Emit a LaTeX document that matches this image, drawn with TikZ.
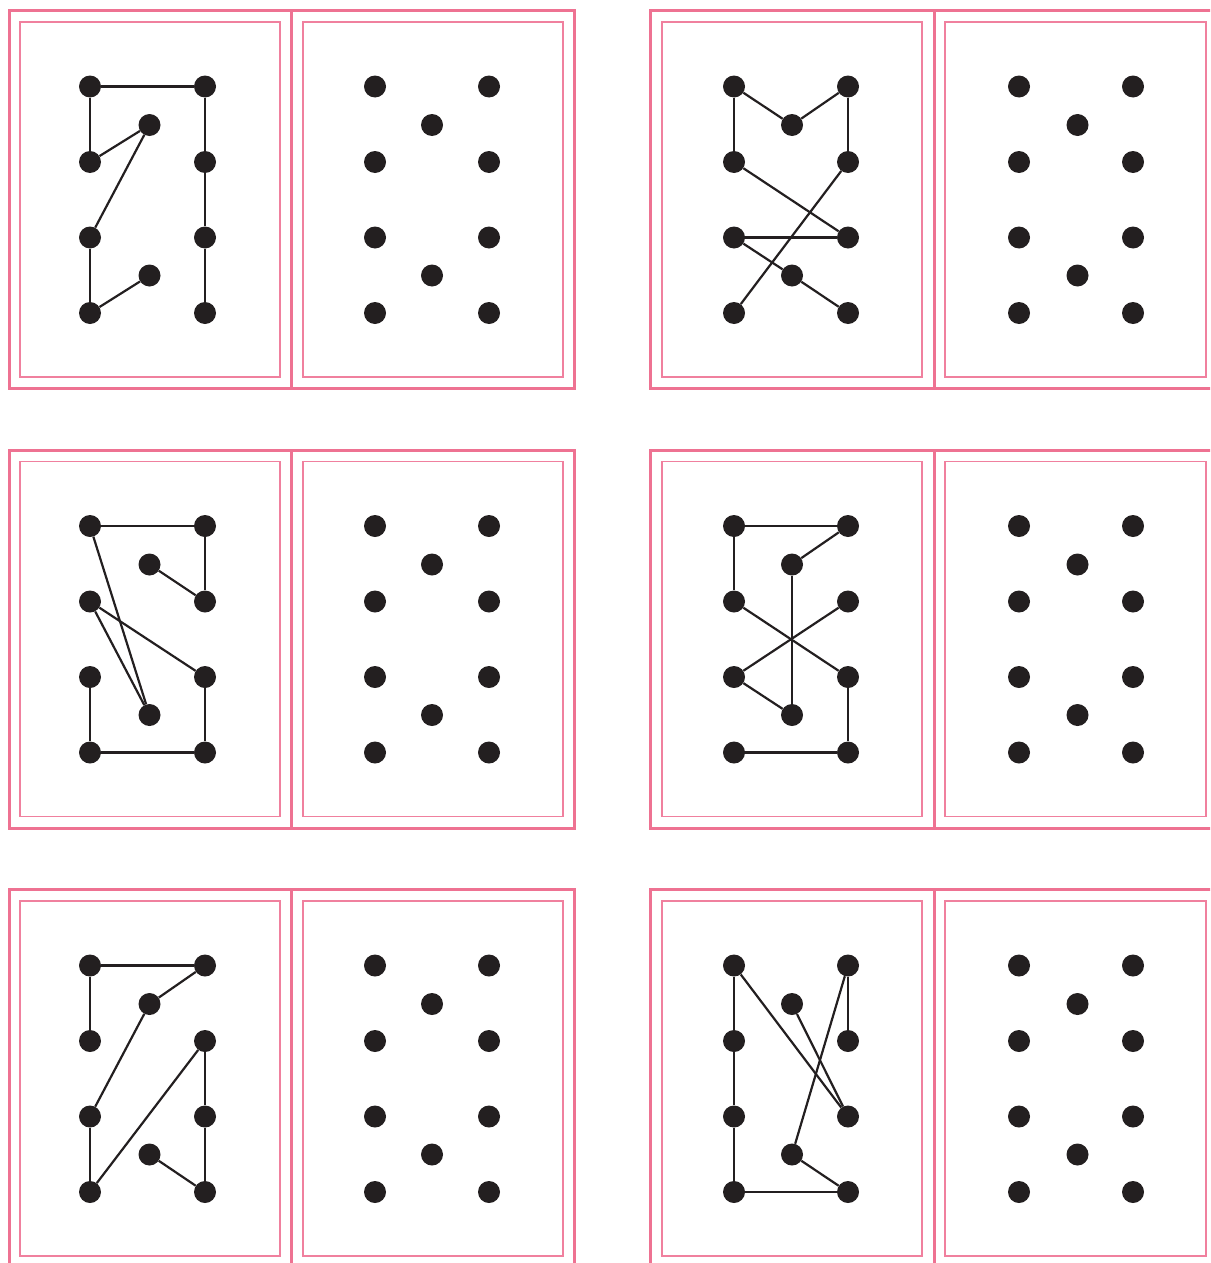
\documentclass[tikz,border=0pt]{standalone}
\definecolor{pinkline}{RGB}{238,114,146}
\definecolor{pinkthin}{RGB}{240,128,158}
\definecolor{dotcol}{RGB}{35,31,32}
\tikzset{
  outerbox/.style={draw=pinkline, line width=3pt},
  innerbox/.style={draw=pinkthin, line width=1.3pt},
  dot/.style={circle, fill=dotcol, inner sep=0pt, minimum size=22pt},
  link/.style={draw=dotcol, line width=2.2pt},
}
% prefix, xL, xM, xR, oy
\newcommand\dotgrid[5]{%
  \node[dot] (#1L1) at (#2,#5+76) {};
  \node[dot] (#1L2) at (#2,#5+151.5) {};
  \node[dot] (#1L3) at (#2,#5+227) {};
  \node[dot] (#1L4) at (#2,#5+302.5) {};
  \node[dot] (#1R1) at (#4,#5+76) {};
  \node[dot] (#1R2) at (#4,#5+151.5) {};
  \node[dot] (#1R3) at (#4,#5+227) {};
  \node[dot] (#1R4) at (#4,#5+302.5) {};
  \node[dot] (#1M1) at (#3,#5+114.5) {};
  \node[dot] (#1M2) at (#3,#5+265) {};
}
% outer left, divider, outer right, inner1 l, inner1 r, inner2 l, inner2 r, oy
\newcommand\panelframe[8]{%
  \draw[outerbox] (#1,#8) rectangle (#3,#8+378);
  \draw[outerbox] (#2,#8) -- (#2,#8+378);
  \draw[innerbox] (#4,#8+11.5) rectangle (#5,#8+366.5);
  \draw[innerbox] (#6,#8+11.5) rectangle (#7,#8+366.5);
}
\begin{document}
\begin{tikzpicture}[x=1pt,y=-1pt]
\useasboundingbox (0,0) rectangle (1210,1263);
\clip (0,0) rectangle (1210,1263);

% ---------- frames ----------
\foreach \oy in {10.5,450,889.5}{
  \panelframe{9}{291.5}{574}{20}{280}{303}{563}{\oy}
  \panelframe{650.5}{934}{1218}{662}{922}{945}{1206}{\oy}
}

% ---------- row 1 ----------
\dotgrid{a}{90}{149.5}{205}{10.5}
\dotgrid{ap}{375}{432}{489}{10.5}
\dotgrid{b}{734}{792}{848}{10.5}
\dotgrid{bp}{1019}{1077.5}{1133}{10.5}

\draw[link] (aL1) -- (aR1);
\draw[link] (aL1) -- (aL2);
\draw[link] (aL2) -- (aM1);
\draw[link] (aM1) -- (aL3);
\draw[link] (aL3) -- (aL4);
\draw[link] (aL4) -- (aM2);
\draw[link] (aR1) -- (aR2);
\draw[link] (aR2) -- (aR3);
\draw[link] (aR3) -- (aR4);

\draw[link] (bL1) -- (bM1);
\draw[link] (bM1) -- (bR1);
\draw[link] (bL1) -- (bL2);
\draw[link] (bR1) -- (bR2);
\draw[link] (bL2) -- (bR3);
\draw[link] (bR2) -- (bL4);
\draw[link] (bL3) -- (bR3);
\draw[link] (bL3) -- (bM2);
\draw[link] (bM2) -- (bR4);

% ---------- row 2 ----------
\dotgrid{c}{90}{149.5}{205}{450}
\dotgrid{cp}{375}{432}{489}{450}
\dotgrid{d}{734}{792}{848}{450}
\dotgrid{dp}{1019}{1077.5}{1133}{450}

\draw[link] (cL1) -- (cR1);
\draw[link] (cR1) -- (cR2);
\draw[link] (cR2) -- (cM1);
\draw[link] (cL1) -- (cM2);
\draw[link] (cL2) -- (cM2);
\draw[link] (cL2) -- (cR3);
\draw[link] (cR3) -- (cR4);
\draw[link] (cL3) -- (cL4);
\draw[link] (cL4) -- (cR4);

\draw[link] (dL1) -- (dR1);
\draw[link] (dR1) -- (dM1);
\draw[link] (dM1) -- (dM2);
\draw[link] (dL1) -- (dL2);
\draw[link] (dL2) -- (dR3);
\draw[link] (dR2) -- (dL3);
\draw[link] (dL3) -- (dM2);
\draw[link] (dR3) -- (dR4);
\draw[link] (dL4) -- (dR4);

% ---------- row 3 ----------
\dotgrid{e}{90}{149.5}{205}{889.5}
\dotgrid{ep}{375}{432}{489}{889.5}
\dotgrid{f}{734}{792}{848}{889.5}
\dotgrid{fp}{1019}{1077.5}{1133}{889.5}

\draw[link] (eL1) -- (eR1);
\draw[link] (eL1) -- (eL2);
\draw[link] (eR1) -- (eM1);
\draw[link] (eM1) -- (eL3);
\draw[link] (eL3) -- (eL4);
\draw[link] (eL4) -- (eR2);
\draw[link] (eR2) -- (eR3);
\draw[link] (eR3) -- (eR4);
\draw[link] (eR4) -- (eM2);

\draw[link] (fL1) -- (fL2);
\draw[link] (fL2) -- (fL3);
\draw[link] (fL3) -- (fL4);
\draw[link] (fL4) -- (fR4);
\draw[link] (fL1) -- (fR3);
\draw[link] (fM1) -- (fR3);
\draw[link] (fR1) -- (fR2);
\draw[link] (fR1) -- (fM2);
\draw[link] (fM2) -- (fR4);
\end{tikzpicture}
\end{document}
